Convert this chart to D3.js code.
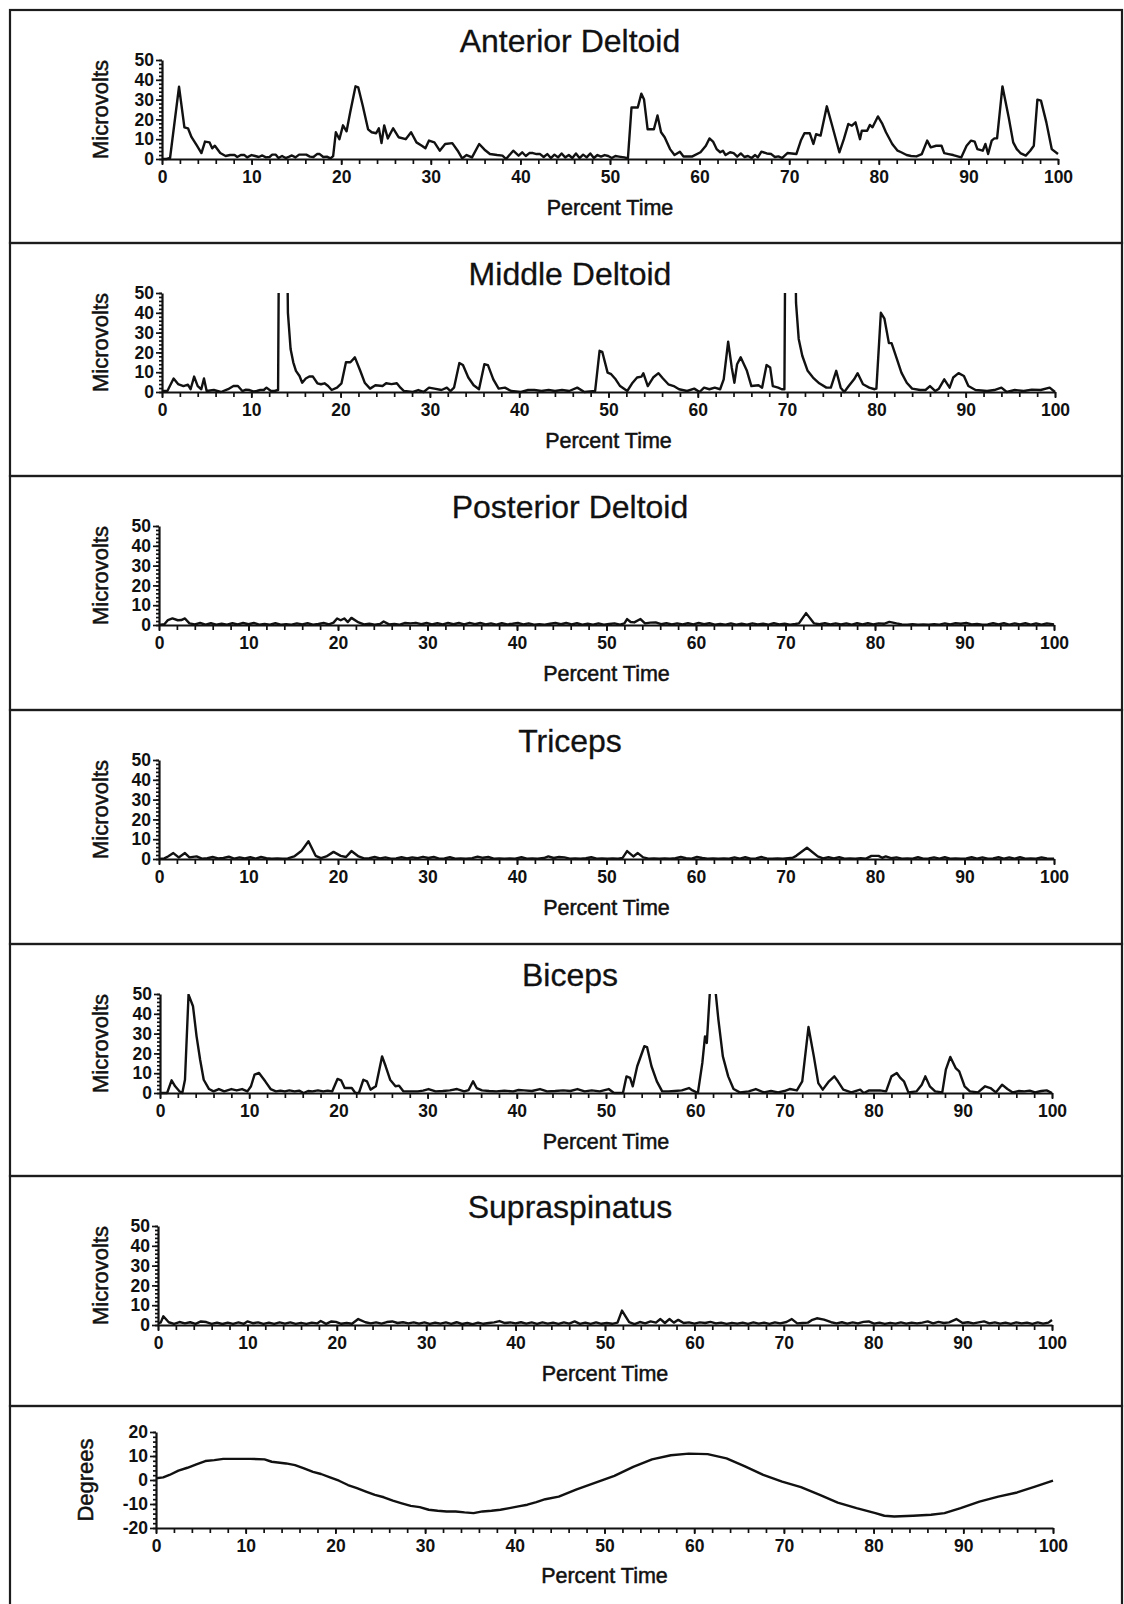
<!DOCTYPE html>
<html>
<head>
<meta charset="utf-8">
<script src="https://cdn.jsdelivr.net/npm/d3@7"></script>
<style>
  html, body { margin: 0; padding: 0; background: #fff; }
  text { font-family: "Liberation Sans", Arial, Helvetica, sans-serif; fill: #111; }
</style>
</head>
<body>
<script>
// ---------------- DATA ----------------
const panelTitles = ["Anterior Deltoid", "Middle Deltoid", "Posterior Deltoid", "Triceps", "Biceps", "Supraspinatus", ""];
const yAxisTitles = ["Microvolts", "Microvolts", "Microvolts", "Microvolts", "Microvolts", "Microvolts", "Degrees"];
const xAxisTitle = "Percent Time";
const xTickValues = [0, 10, 20, 30, 40, 50, 60, 70, 80, 90, 100];
const emgTickValues = [0, 10, 20, 30, 40, 50];
const degTickValues = [-20, -10, 0, 10, 20];

const anteriorDeltoid = [[0,0],[0.5,0],[0.9,0.5],[1.9,36.5],[2.5,16],[2.9,15.5],[3.3,11],[3.9,6.7],[4.4,3],[4.8,8.8],[5.3,8.4],[5.6,5.4],[5.9,6.7],[6.5,3],[7.1,1.5],[7.6,2],[8.1,2],[8.4,1],[8.8,2],[9.2,2],[9.5,0.8],[10,2],[10.4,1.5],[10.8,1],[11.2,1.8],[11.6,0.8],[12,1],[12.3,2.2],[12.7,2.2],[13,0.5],[13.4,1.5],[13.8,0.5],[14.2,1.2],[14.5,1.8],[14.9,0.8],[15.3,2.2],[15.7,2.2],[16.1,2.2],[16.5,1.2],[16.9,1],[17.3,2.5],[17.6,2.5],[18,1],[18.4,1.2],[18.8,0.3],[19.1,1.5],[19.4,13.5],[19.8,10],[20.2,17],[20.6,14],[21,23.5],[21.6,36.7],[21.9,36.2],[22.4,27],[23,15],[23.4,13.5],[23.9,13],[24.2,15.5],[24.5,8],[24.8,17],[25.2,10.4],[25.8,15.5],[26.4,11],[27.2,10],[27.8,13.5],[28.4,8.4],[29,6.7],[29.4,5.4],[29.8,9.3],[30.4,8.4],[31,4.2],[31.6,7.6],[32.4,8],[33,4.2],[33.5,0.3],[34,2],[34.6,0.8],[35.4,7.6],[36,4.7],[36.6,2.5],[37.4,2],[38,1.7],[38.4,0],[39.2,4.2],[39.8,1.7],[40.2,3.4],[40.6,1.5],[41,3],[41.4,3],[41.8,2.5],[42.2,2.5],[42.6,1],[43,2.5],[43.4,0.5],[43.8,2.2],[44.2,0.8],[44.6,2.8],[45,0.8],[45.4,2],[45.8,0.5],[46.2,2.8],[46.6,0.5],[47,2.2],[47.4,0.8],[47.8,2.8],[48.2,0.5],[48.6,2],[49,1.2],[49.4,2],[49.8,1.5],[50.2,0.5],[50.6,1.5],[51,1.2],[51.6,0.8],[52,0.3],[52.4,26],[53.1,26],[53.5,33],[53.8,30],[54.2,15],[54.9,15],[55.3,22],[55.7,13.5],[56.1,11],[56.7,5],[57.2,2],[57.8,3.7],[58.2,1.3],[58.7,1.3],[59.2,1.3],[60.1,3.4],[60.7,6.7],[61.1,10.4],[61.5,8.8],[61.9,5],[62.3,3.4],[62.6,4.2],[62.9,2],[63.4,3.4],[63.8,3],[64.2,1.2],[64.6,2.8],[65,1],[65.4,1.5],[65.8,0.5],[66.2,2],[66.5,0.8],[66.9,3.7],[67.5,2.8],[68,2.5],[68.4,1],[68.8,1.3],[69.2,0.5],[69.8,3],[70.3,2.8],[70.8,2.5],[71.3,9.3],[71.7,13],[72.3,13],[72.7,7.6],[73,12.5],[73.5,11.8],[74.2,26.6],[74.8,16.8],[75.6,3.4],[76.1,10],[76.6,17.7],[77,16.8],[77.4,18.5],[77.9,10],[78.1,14.3],[78.7,14.3],[79,17.2],[79.3,16],[79.9,21.5],[80.4,17.7],[80.8,13.5],[81.5,7.6],[81.7,6.4],[82.1,4.2],[82.5,3.4],[83.1,2],[83.6,1.5],[84.2,1.3],[84.8,2.5],[85.4,9.3],[85.8,5.9],[86.4,6.7],[87,6.7],[87.3,3],[87.8,2.5],[88.3,2],[89.2,0.8],[89.8,6.7],[90.3,9.3],[90.7,8.8],[91,5],[91.6,4.2],[91.9,7.6],[92.2,2.5],[92.6,9.3],[92.9,10.4],[93.2,10.4],[93.8,36.7],[94.5,21],[95,8.4],[95.4,5],[95.8,3],[96.4,1.7],[96.9,4.2],[97.3,6.7],[97.7,30],[98.1,29.5],[98.7,18.5],[99.3,5],[100,2.5]];

const middleDeltoid = [[0,0.5],[0.6,0.5],[1.3,6.8],[1.8,4],[2.4,3],[2.9,3.7],[3.2,1.4],[3.6,7.8],[4,3],[4.4,1.4],[4.7,6.8],[5,0.5],[5.8,1],[6.6,0],[7.4,1.4],[8,3],[8.5,3],[9,0.5],[9.4,1.2],[9.8,1],[10.2,0.3],[10.6,0.5],[11,1],[11.4,1],[11.7,2.2],[12.2,0.5],[12.6,0.5],[13,1],[13.15,120],[13.9,120],[14.1,40],[14.4,21.7],[14.7,15],[15,10.7],[15.4,8.1],[15.7,4.7],[16.1,6.8],[16.5,7.8],[16.9,7.8],[17.4,4.4],[17.8,3.9],[18.2,4.4],[18.6,3],[19,1],[19.6,2.2],[20.1,4.4],[20.6,15],[21.1,15],[21.6,17.5],[22.2,10.7],[22.7,4.7],[23.3,1.7],[23.9,3.4],[24.7,3],[25.1,4.4],[25.7,4],[26.3,4.4],[26.7,2.2],[27.1,0.5],[28.1,0],[28.7,1],[29.3,0],[29.9,2.2],[30.5,1.7],[31.3,1],[31.9,2.2],[32.3,0.5],[32.7,2.2],[33.3,14.6],[33.7,13.6],[34.3,7.3],[34.9,3.4],[35.5,1.4],[36.1,14],[36.5,13.6],[37.1,6.4],[37.7,1.7],[38.4,2.2],[39.1,0.5],[40.2,0],[41,1],[41.7,1],[42.5,0.5],[43.3,1],[44,0.5],[44.8,1],[45.6,0.5],[46.5,2.2],[47.3,0],[48.5,0.5],[49,20.8],[49.3,20.3],[49.9,9.8],[50.3,9],[50.8,6.4],[51.3,3],[52.1,0.5],[52.7,4.7],[53.2,7.3],[53.7,7.8],[53.9,9.5],[54.4,3],[55,7.3],[55.6,9.5],[56.1,6.8],[56.7,3.9],[57.3,3],[57.9,1.4],[58.8,0.5],[59.6,1.7],[60.2,0],[60.7,2.2],[61.3,1.4],[61.9,2.2],[62.5,1.4],[62.9,6.4],[63.4,25.4],[63.8,12.4],[64.1,4.7],[64.4,14],[64.8,17.5],[65.5,10.7],[66,3],[66.8,3.4],[67.2,2.2],[67.7,13.6],[68.1,12.4],[68.4,3],[69,2.2],[69.4,1.4],[69.7,1.4],[69.85,120],[70.8,120],[71,45],[71.3,26.8],[71.7,18.3],[72.3,10.7],[72.9,7.3],[73.6,4.4],[74.4,2.2],[74.9,2.2],[75.5,10.7],[76,2.2],[76.4,0],[76.9,3],[77.5,6.4],[77.9,9.5],[78.5,3.9],[79.2,2.2],[79.8,1.4],[80,1.7],[80.5,40],[80.9,37],[81.4,24.7],[81.7,24.7],[82.3,16.6],[82.8,9.8],[83.4,4.7],[84,1.7],[84.9,1],[85.5,1],[86,3],[86.6,0.5],[87,1.7],[87.6,6.4],[88.2,2.2],[88.6,7.3],[89.2,9.5],[89.8,8.1],[90.3,3],[91.1,1],[92.4,0.5],[93.2,1],[94,2.2],[94.6,0],[95.5,1],[96.5,0.5],[97.4,1.2],[98.4,1],[99.4,2.2],[100,0]];

const posteriorDeltoid = [[0,0],[0.6,0.4],[1.0,2.5],[1.5,3.3],[2.1,2.4],[2.5,2.5],[2.9,3.3],[3.4,0.8],[4.0,0.3],[4.6,1.0],[5.2,0.2],[5.8,0.9],[6.4,0.2],[7.0,0.6],[7.6,0.2],[8.2,0.9],[8.8,0.3],[9.4,1.0],[10.0,0.4],[10.6,1.0],[11.2,0.2],[11.8,0.5],[12.4,0.2],[13.0,0.9],[13.6,0.2],[14.2,0.4],[14.8,0.2],[15.4,0.8],[16.0,0.3],[16.6,0.9],[17.2,0.2],[17.8,0.5],[18.4,1.0],[19.0,0.3],[19.5,1.2],[19.9,3.3],[20.3,2.4],[20.7,3.3],[21.1,1.5],[21.5,3.6],[22.3,1.3],[22.9,0.3],[23.5,0.6],[24.1,0.2],[24.7,0.5],[25.1,1.8],[25.7,0.3],[26.3,0.5],[26.9,0.2],[27.5,1.0],[28.1,0.8],[28.7,1.1],[29.3,0.4],[29.9,1.0],[30.5,0.3],[31.1,0.9],[31.7,0.3],[32.3,1.0],[32.9,0.4],[33.5,1.0],[34.1,0.3],[34.7,1.1],[35.3,0.4],[35.9,1.0],[36.5,0.3],[37.1,0.8],[37.7,0.2],[38.3,0.9],[38.9,0.3],[39.5,0.6],[40.1,1.0],[40.7,0.3],[41.3,0.8],[41.9,0.2],[42.5,0.4],[43.1,0.2],[43.7,0.6],[44.3,1.0],[44.9,0.4],[45.5,1.0],[46.1,0.3],[46.7,0.9],[47.3,0.2],[47.9,0.6],[48.5,0.2],[49.1,0.8],[49.7,0.2],[50.3,0.5],[50.9,0.8],[51.5,0.2],[52.0,0.8],[52.3,3.0],[52.7,1.5],[53.1,1.3],[53.8,3.0],[54.3,0.8],[54.9,1.2],[55.5,1.3],[56.1,0.4],[56.7,0.9],[57.3,0.3],[57.9,0.8],[58.5,0.3],[59.1,0.9],[59.7,0.3],[60.3,1.0],[60.9,0.4],[61.5,0.9],[62.1,0.2],[62.7,0.5],[63.3,0.2],[63.9,0.8],[64.5,0.2],[65.1,0.6],[65.7,0.2],[66.3,0.8],[66.9,0.3],[67.5,0.7],[68.1,0.2],[68.7,0.9],[69.3,0.3],[69.9,0.6],[70.5,0.2],[71.1,0.5],[71.5,0.8],[72.3,6.0],[73.2,0.8],[73.8,0.4],[74.4,0.9],[75.0,0.3],[75.6,0.8],[76.2,0.3],[76.8,0.8],[77.4,0.2],[78.0,0.9],[78.6,0.3],[79.2,0.9],[79.8,0.3],[80.4,0.8],[81.0,0.6],[81.6,1.6],[82.4,0.8],[83.0,0.3],[83.6,0.2],[84.2,0.4],[84.8,0.2],[85.4,0.3],[86.0,0.2],[86.6,0.4],[87.2,0.2],[87.8,0.8],[88.4,0.3],[89.0,0.9],[89.6,0.6],[90.2,1.0],[90.8,0.3],[91.4,0.5],[92.0,0.2],[92.6,0.3],[93.2,0.9],[93.8,0.3],[94.4,0.9],[95.0,0.2],[95.6,0.8],[96.2,0.3],[96.8,0.9],[97.4,0.2],[98.0,0.8],[98.6,0.2],[99.2,0.8],[100,0.3]];

const triceps = [[0,0],[0.6,0.3],[1.0,1.3],[1.6,3.0],[2.2,0.8],[2.9,3.0],[3.4,0.8],[4.2,1.3],[4.8,0.2],[5.4,0.4],[6.0,1.0],[6.6,0.3],[7.2,0.5],[7.8,1.2],[8.4,0.2],[9.0,0.8],[9.6,0.3],[10.2,0.9],[10.8,0.2],[11.4,1.0],[12.0,0.4],[12.6,0.2],[13.2,0.3],[13.8,0.2],[14.4,0.3],[15.1,1.3],[15.9,4.0],[16.7,9.0],[17.5,1.6],[18.1,0.4],[18.7,1.3],[19.5,3.6],[20.3,1.6],[20.9,1.0],[21.5,4.0],[22.3,1.3],[22.9,0.3],[23.5,0.4],[24.1,1.0],[24.7,0.3],[25.3,0.8],[25.9,0.2],[26.5,0.3],[27.1,0.9],[27.7,0.3],[28.3,0.8],[28.9,0.4],[29.5,1.1],[30.1,0.5],[30.7,1.0],[31.3,0.2],[31.9,0.3],[32.5,0.9],[33.1,0.2],[33.7,0.3],[34.3,0.2],[35.0,0.4],[35.6,1.2],[36.2,0.6],[36.8,1.0],[37.4,0.2],[38.0,0.3],[38.6,0.2],[39.2,0.3],[39.8,0.2],[40.5,0.9],[41.1,0.2],[41.7,0.3],[42.3,0.2],[43.0,0.5],[43.5,1.3],[44.1,0.5],[44.7,1.0],[45.3,0.8],[45.9,0.2],[46.5,0.3],[47.1,0.2],[47.7,0.4],[48.3,0.9],[48.9,0.2],[49.5,0.3],[50.1,0.2],[50.7,0.3],[51.3,0.2],[51.8,0.6],[52.3,4.0],[53.0,1.3],[53.5,3.0],[54.1,0.8],[54.7,0.2],[55.3,0.3],[55.9,0.2],[56.5,0.3],[57.1,0.2],[57.7,0.4],[58.3,1.0],[58.9,0.4],[59.5,0.2],[60.1,1.0],[60.7,0.5],[61.3,0.2],[61.9,0.3],[62.5,0.2],[63.1,0.3],[63.7,0.2],[64.3,0.8],[64.9,0.2],[65.5,0.9],[66.1,0.2],[66.7,0.3],[67.3,1.0],[67.9,0.3],[68.5,0.2],[69.1,0.3],[69.7,0.2],[70.3,0.4],[70.8,0.6],[71.2,1.6],[72.4,5.7],[73.6,1.3],[74.2,0.3],[74.8,0.9],[75.4,0.3],[76.0,0.9],[76.6,0.2],[77.2,0.3],[77.8,0.2],[78.4,0.4],[79.0,0.2],[79.6,1.6],[80.4,1.6],[80.8,0.6],[81.2,1.3],[81.8,0.4],[82.4,0.8],[83.0,0.2],[83.6,0.3],[84.2,0.2],[84.8,0.9],[85.4,0.2],[86.0,0.3],[86.6,0.8],[87.2,0.2],[87.8,0.9],[88.4,0.2],[89.0,0.3],[89.6,0.2],[90.2,0.3],[90.8,0.9],[91.4,0.2],[92.0,0.8],[92.6,0.2],[93.2,0.3],[93.8,0.9],[94.4,0.2],[95.0,0.8],[95.6,0.2],[96.2,0.9],[96.8,0.2],[97.4,0.3],[98.0,0.2],[98.6,0.8],[99.2,0.3],[100,0.2]];

const biceps = [[0,0],[0.8,0],[1.3,6.4],[1.7,3.4],[2.2,0.8],[2.5,0],[2.8,6.7],[3.2,49.7],[3.7,43.8],[4.1,28.6],[4.5,16.8],[4.9,6.7],[5.5,2],[6,0.8],[6.6,2],[7.2,0.8],[8,2],[8.6,1.3],[9.2,2],[9.8,0.8],[10.2,3.4],[10.6,9.3],[11.1,10.1],[11.8,5.9],[12.4,2],[13,0.8],[13.5,1.2],[14,0.8],[14.5,1.3],[15.1,0.8],[15.6,1.2],[16.1,0],[16.6,1],[17.1,0.8],[17.7,1.3],[18.3,0.8],[18.8,1.2],[19.3,0.8],[19.9,7.1],[20.3,6.4],[20.7,2.5],[21.5,2.5],[21.9,0],[22.3,0],[22.8,6.7],[23.2,5.9],[23.6,1.7],[24.2,3.4],[24.9,18.5],[25.3,13.5],[25.8,6.7],[26.4,3.4],[26.8,3.7],[27.3,0.8],[28.1,0.8],[28.9,0.8],[29.5,1.2],[30.1,2],[30.9,0.8],[31.7,1],[32.5,1.3],[33.3,2],[34.1,0.8],[34.6,1.5],[35.1,5.9],[35.5,2.5],[36.1,1.3],[36.9,1],[37.7,0.8],[38.6,1.2],[39.6,0.8],[40.2,1.5],[40.8,1.3],[41.7,1],[42.6,2],[43.4,0.8],[44.3,1],[45.2,1.3],[46,1],[46.8,2],[47.6,0.8],[48.4,1.3],[49.3,0.8],[50.3,2],[50.9,0],[51.9,0],[52.3,8.4],[52.7,7.6],[53,3.4],[53.5,13.5],[54.3,23.6],[54.6,23.2],[55.1,13.5],[55.7,5.9],[56.3,0.8],[57,0.8],[57.7,1],[58.5,1.3],[59.3,2.5],[59.7,1.3],[60.3,0],[60.8,15.2],[61.1,28.6],[61.3,25.3],[61.7,55],[62.2,55],[62.6,37],[63.1,18.5],[63.7,8.4],[64.3,2],[65,0.3],[66,0.8],[66.8,2],[67.7,0.3],[68.5,1],[69.3,0.3],[70,1],[70.6,2],[71.4,1.3],[72,5.9],[72.7,33.3],[73.3,18.5],[73.8,5],[74.3,1.7],[75,5.9],[75.6,8.4],[76,5.9],[76.6,1.7],[77.5,0.3],[78.5,1.7],[78.9,0],[79.5,1.3],[80.7,1.3],[81.4,0.8],[82,8.4],[82.6,10.1],[83,7.6],[83.4,5.9],[83.9,0.3],[84.8,0.8],[85.4,4.2],[85.8,8.4],[86.3,3.4],[86.9,0.8],[87.7,0.3],[88.1,11.8],[88.6,18.2],[89.2,12.6],[89.6,10.9],[90.2,3.4],[90.8,0.8],[91.7,0.3],[92.5,3.4],[93.1,2.5],[93.7,0.3],[94.4,4.2],[95,2],[95.6,0.3],[96.3,1],[96.9,0.8],[97.5,1.2],[98.1,0.3],[98.8,1],[99.4,1.3],[100,0]];

const supraspinatus = [[0,1.0],[0.3,1.2],[0.6,4.4],[1.2,1.4],[1.8,0.6],[2.4,1.5],[3.0,0.8],[3.6,1.4],[4.2,0.6],[4.8,1.8],[5.4,1.5],[6.0,0.6],[6.6,1.2],[7.2,0.5],[7.8,1.2],[8.4,0.6],[9.0,1.3],[9.6,0.6],[10.0,1.8],[10.6,0.9],[11.2,1.3],[11.8,0.6],[12.4,1.2],[13.0,0.6],[13.6,1.3],[14.2,0.7],[14.8,1.3],[15.4,0.6],[16.0,1.1],[16.6,0.6],[17.2,1.2],[17.8,0.8],[18.2,2.0],[18.8,0.6],[19.4,1.8],[19.9,1.6],[20.5,0.6],[21.1,1.0],[21.7,0.6],[22.4,3.0],[23.2,1.4],[23.8,0.8],[24.4,1.3],[25.0,0.7],[25.6,1.5],[26.2,1.8],[26.8,1.0],[27.4,1.4],[28.0,0.8],[28.6,1.3],[29.2,0.7],[29.8,1.3],[30.4,0.6],[31.0,1.2],[31.6,0.7],[32.2,1.3],[32.8,0.6],[33.4,1.4],[34.0,0.5],[34.6,1.0],[35.2,0.4],[35.8,1.2],[36.4,0.6],[37.0,1.0],[37.6,1.3],[38.2,2.0],[38.8,1.0],[39.4,1.3],[40.0,0.8],[40.6,1.4],[41.2,0.7],[41.8,1.3],[42.4,0.6],[43.0,1.3],[43.6,0.7],[44.2,1.2],[44.8,0.6],[45.4,1.3],[46.0,0.7],[46.6,1.8],[47.2,0.6],[47.8,1.2],[48.4,0.6],[49.0,1.3],[49.6,0.6],[50.2,1.0],[50.8,0.6],[51.4,1.2],[51.9,7.3],[52.7,1.4],[53.3,0.4],[53.9,1.5],[54.5,0.8],[55.1,1.8],[55.7,1.2],[56.2,3.0],[56.7,1.0],[57.2,3.0],[57.7,1.2],[58.2,2.6],[58.8,1.0],[59.4,1.3],[60.0,0.7],[60.6,1.3],[61.2,1.0],[61.8,1.6],[62.4,0.8],[63.0,1.2],[63.6,0.6],[64.2,1.1],[64.8,0.7],[65.4,1.2],[66.0,0.6],[66.6,1.3],[67.2,0.7],[67.8,1.2],[68.4,0.6],[69.0,1.3],[69.6,0.8],[70.3,1.5],[70.9,3.0],[71.5,0.8],[72.1,1.0],[72.7,1.2],[73.2,2.6],[73.7,3.4],[74.5,2.7],[75.3,1.4],[75.9,0.8],[76.5,1.4],[77.1,0.7],[77.7,1.3],[78.3,0.8],[78.9,1.6],[79.5,1.8],[80.1,0.7],[80.7,1.2],[81.3,0.6],[81.9,1.1],[82.5,0.7],[83.1,1.3],[83.7,0.7],[84.3,1.2],[84.9,0.8],[85.5,1.2],[86.1,1.8],[86.7,0.8],[87.3,1.6],[87.9,1.0],[88.5,1.3],[89.3,3.0],[90.0,1.0],[90.6,1.4],[91.2,0.8],[91.8,1.3],[92.4,1.8],[93.0,0.8],[93.6,1.3],[94.2,0.7],[94.8,1.2],[95.4,0.6],[96.0,1.3],[96.6,0.8],[97.2,1.2],[97.8,0.6],[98.4,1.3],[99.0,0.7],[99.6,1.2],[100,2.5]];

const jointAngle = [[0,0.7],[0.8,1.1],[1.5,2.1],[2.5,3.9],[3.5,5.1],[4.5,6.5],[5.5,7.9],[6.5,8.3],[7.5,8.8],[8.5,8.8],[10.5,8.8],[12.1,8.6],[12.9,7.6],[14.5,6.9],[15.5,6.2],[16.5,4.8],[17.5,3.4],[18.4,2.5],[19.4,1.1],[20.4,-0.3],[21.4,-2.1],[22.4,-3.4],[23.4,-4.8],[24.4,-6.2],[25.4,-7.2],[26.4,-8.6],[27.4,-9.7],[28.4,-10.8],[29.4,-11.3],[30.4,-12.4],[31.4,-12.8],[32.4,-13.1],[33.4,-13.1],[34.4,-13.5],[35.4,-13.8],[36.4,-13.1],[37.4,-12.8],[38.4,-12.4],[39.4,-11.7],[40.4,-11],[41.4,-10.3],[42.4,-9.2],[43.4,-8],[44.9,-6.9],[46.9,-3.9],[49.0,-1.1],[51.1,1.7],[53.2,5.5],[55.3,8.6],[57.4,10.3],[59.4,11],[61.5,10.8],[63.6,9],[65.6,5.8],[67.7,2.1],[69.8,-0.7],[71.9,-3],[74.0,-6.2],[76.0,-9.4],[78.1,-11.7],[80.2,-13.8],[81.2,-14.9],[82.3,-15.2],[84.4,-14.9],[86.4,-14.5],[87.9,-13.8],[89.7,-11.7],[91.8,-9],[93.9,-6.9],[96.0,-5.2],[98.0,-2.8],[100,-0.3]];

const seriesList = [anteriorDeltoid, middleDeltoid, posteriorDeltoid, triceps, biceps, supraspinatus, jointAngle];

// ---------------- LAYOUT ----------------
const W = 1124, H = 1604;
const panelTops = [10, 243, 476, 710, 944, 1176, 1406];
const plotLeft  = [162, 162, 159, 159, 160, 158, 156];
const plotRight = [1058, 1055, 1054, 1054, 1052, 1052, 1053];
const FONT = '"Liberation Sans", Arial, Helvetica, sans-serif';
const plainNum = d => String(d);   // ASCII hyphen for negatives, as in the reference

const svg = d3.select("body").append("svg")
  .attr("width", W).attr("height", H)
  .attr("viewBox", `0 0 ${W} ${H}`);

svg.append("rect").attr("width", W).attr("height", H).attr("fill", "#fff");

const defs = svg.append("defs");

seriesList.forEach((data, i) => {
  const top = panelTops[i];
  const bottom = i < panelTops.length - 1 ? panelTops[i + 1] : H + 20;
  const isDeg = i === 6;

  // panel frame
  svg.append("rect")
    .attr("x", 10).attr("y", top)
    .attr("width", 1112).attr("height", bottom - top)
    .attr("fill", "none").attr("stroke", "#1c1c1c").attr("stroke-width", 2.2);

  const x = d3.scaleLinear().domain([0, 100]).range([plotLeft[i], plotRight[i]]);
  const y = isDeg
    ? d3.scaleLinear().domain([-20, 20]).range([top + 122, top + 26])
    : d3.scaleLinear().domain([0, 50]).range([top + 149, top + 50]);
  const yDomain = y.domain();
  const axisY = y(yDomain[0]);

  const g = svg.append("g");

  // clip
  const clipId = "clip" + i;
  defs.append("clipPath").attr("id", clipId)
    .append("rect")
    .attr("x", x(0)).attr("y", y(yDomain[1]))
    .attr("width", x(100) - x(0) + 2)
    .attr("height", y(yDomain[0]) - y(yDomain[1]) + 2);

  // line
  const line = d3.line().x(d => x(d[0])).y(d => y(d[1]));
  g.append("path")
    .datum(data)
    .attr("clip-path", `url(#${clipId})`)
    .attr("d", line)
    .attr("fill", "none")
    .attr("stroke", "#111")
    .attr("stroke-width", 2.4)
    .attr("stroke-linejoin", "round");

  // x axis minor ticks
  const xMinor = g.append("g").attr("transform", `translate(0,${axisY})`)
    .call(d3.axisBottom(x).tickValues(d3.range(0, 101, 2)).tickSize(5).tickFormat(""));
  xMinor.select(".domain").remove();
  // x axis major
  const xMajor = g.append("g").attr("transform", `translate(0,${axisY})`)
    .call(d3.axisBottom(x).tickValues(xTickValues).tickSize(6).tickPadding(6).tickFormat(plainNum).tickSizeOuter(0));

  // y axis minor
  const yMinorVals = isDeg ? d3.range(-20, 21, 2) : d3.range(0, 51, 2);
  const yMinor = g.append("g").attr("transform", `translate(${x(0)},0)`)
    .call(d3.axisLeft(y).tickValues(yMinorVals).tickSize(3).tickFormat(""));
  yMinor.select(".domain").remove();
  const yMajor = g.append("g").attr("transform", `translate(${x(0)},0)`)
    .call(d3.axisLeft(y).tickValues(isDeg ? degTickValues : emgTickValues).tickSize(6).tickPadding(2).tickFormat(plainNum).tickSizeOuter(0));

  [xMinor, xMajor, yMinor, yMajor].forEach(a => {
    a.selectAll("line").attr("stroke", "#111").attr("stroke-width", 1.7);
    a.selectAll(".domain").attr("stroke", "#111").attr("stroke-width", 2.2);
    a.selectAll("text")
      .attr("font-family", FONT)
      .attr("font-size", 17.5)
      .attr("font-weight", "bold")
      .attr("fill", "#111");
  });

  // title
  if (panelTitles[i]) {
    svg.append("text")
      .attr("x", 570).attr("y", top + 42)
      .attr("text-anchor", "middle")
      .attr("font-family", FONT)
      .attr("font-size", 32)
      .attr("stroke", "#111").attr("stroke-width", 0.3)
      .text(panelTitles[i]);
  }

  // x axis title
  svg.append("text")
    .attr("x", (x(0) + x(100)) / 2)
    .attr("y", isDeg ? top + 177 : top + 205)
    .attr("text-anchor", "middle")
    .attr("font-family", FONT)
    .attr("font-size", 21.5)
    .attr("stroke", "#111").attr("stroke-width", 0.5)
    .text(xAxisTitle);

  // y axis title
  const yc = (y(yDomain[0]) + y(yDomain[1])) / 2;
  const yx = isDeg ? 93 : 108;
  svg.append("text")
    .attr("transform", `translate(${yx},${yc}) rotate(-90)`)
    .attr("text-anchor", "middle")
    .attr("font-family", FONT)
    .attr("font-size", 22)
    .attr("stroke", "#111").attr("stroke-width", 0.5)
    .text(yAxisTitles[i]);
});
</script>
</body>
</html>
